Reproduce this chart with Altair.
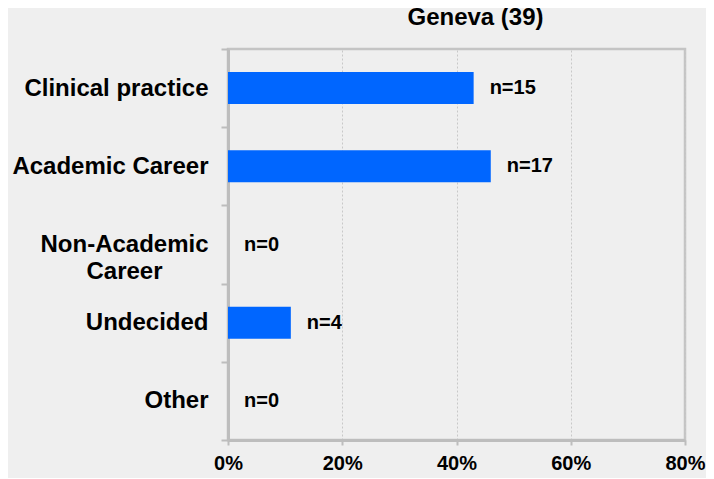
import altair as alt
import pandas as pd

categories = ["Clinical practice", "Academic Career", "Non-Academic|Career", "Undecided", "Other"]
shares = [0.43, 0.46, 0.0, 0.11, 0.0]
counts = [15, 17, 0, 4, 0]
x_ticks = [0, 0.2, 0.4, 0.6, 0.8]
title_text = "Geneva (39)"

df = pd.DataFrame({"category": categories, "share": shares, "n": counts})
df["label"] = ["n=" + str(c) for c in counts]

FONT = "Liberation Sans, Arial, Helvetica, sans-serif"
GRAY = "#bdbdbd"
TWO_LINE = "datum.value == 'Non-Academic|Career'"

y_enc = alt.Y(
    "category:N", sort=categories, title=None,
    scale=alt.Scale(paddingInner=0, paddingOuter=0),
    axis=alt.Axis(
        labelExpr="split(datum.label, '|')",
        labelFont=FONT, labelFontSize=24, labelFontWeight="bold", labelColor="black",
        labelAlign={"condition": {"test": TWO_LINE, "value": "center"}, "value": "right"},
        labelPadding={"condition": {"test": TWO_LINE, "value": 97}, "value": 13},
        labelLineHeight=27, labelLimit=400,
        tickBand="extent", tickSize=7, tickColor=GRAY, tickWidth=2,
        domainColor=GRAY, domainWidth=3, grid=False,
    ),
)
x_enc = alt.X(
    "share:Q", title=None,
    scale=alt.Scale(domain=[0, 0.8], nice=False),
    axis=alt.Axis(
        values=x_ticks, format=".0%", labelFlush=False,
        labelFont=FONT, labelFontSize=20, labelFontWeight="bold", labelColor="black",
        labelPadding=8, tickSize=5, tickColor=GRAY, tickWidth=2,
        domainColor=GRAY, domainWidth=3,
        grid=True, gridColor="#c8c8c8", gridDash=[2, 2], gridWidth=1,
    ),
)

bars = alt.Chart(df).mark_bar(color="#0066ff", size=32).encode(x=x_enc, y=y_enc)
text = alt.Chart(df).mark_text(
    align="left", baseline="middle", dx=16,
    font=FONT, fontSize=20, fontWeight="bold", color="black",
).encode(
    x=alt.X("share:Q"),
    y=alt.Y("category:N", sort=categories),
    text="label:N",
)

chart = (bars + text).properties(
    width=457, height=391,
    title=alt.Title(
        title_text, font=FONT, fontSize=24, fontWeight="bold", color="black",
        anchor="middle", dx=19, offset=7,
    ),
    autosize=alt.AutoSizeParams(type="none"),
    padding={"left": 220, "top": 41, "right": 21, "bottom": 38},
    background="#efefef",
).configure_view(stroke="#c4c4c4", strokeWidth=2.5)

chart.save("out.html", embed_options={"renderer": "svg", "actions": False})
